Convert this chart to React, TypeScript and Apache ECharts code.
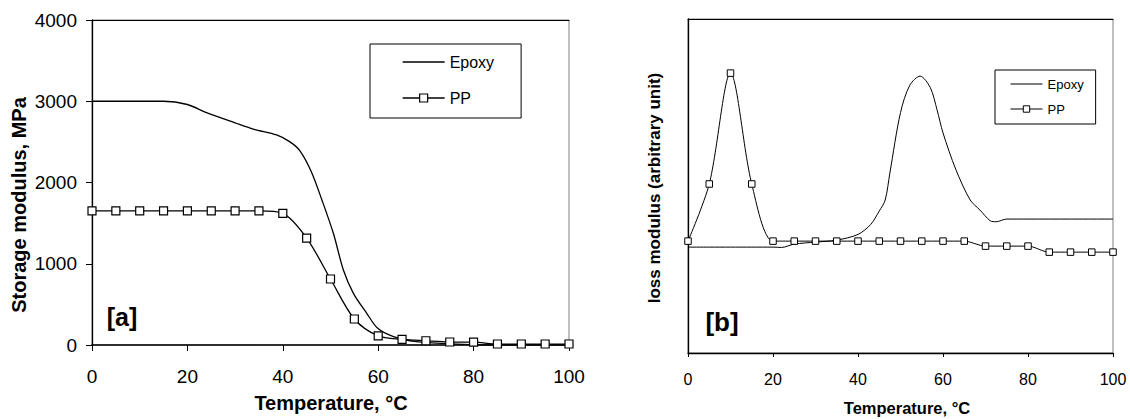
import React, { useEffect, useRef } from "react";
import * as echarts from "echarts";

// ---------- Data ----------
// [a] Storage modulus (MPa)
const ppTempsA = [0, 5, 10, 15, 20, 25, 30, 35, 40, 45, 50, 55, 60, 65, 70, 75, 80, 85, 90, 95, 100];
const ppModulusA = [1650, 1650, 1650, 1650, 1650, 1650, 1650, 1650, 1620, 1316, 812, 320, 112, 70, 52, 37, 36, 12, 12, 12, 12];
const epoxyTempsA = [0, 5, 10, 15, 20, 24, 30, 34, 38.7, 41.5, 43.6, 46, 48.2, 50.6, 52.7, 54.8, 57.6, 59.9, 63.2, 68, 75, 85, 100];
const epoxyModulusA = [3000, 3000, 3000, 3000, 2960, 2860, 2735, 2655, 2585, 2500, 2390, 2130, 1785, 1375, 923, 636, 390, 205, 103, 41, 15, 0, 0];

// [b] Loss modulus (arbitrary unit)
const ppTempsB = [0, 5, 10, 15, 20, 25, 30, 35, 40, 45, 50, 55, 60, 65, 70, 75, 80, 85, 90, 95, 100];
const ppLossB = [33.5, 50.6, 83.8, 50.6, 33.5, 33.5, 33.5, 33.5, 33.5, 33.5, 33.5, 33.5, 33.5, 33.5, 32.0, 32.0, 32.0, 30.2, 30.2, 30.2, 30.2];
const epoxyTempsB = [0, 5, 10, 15, 20, 22, 25, 30, 35, 40, 43, 45, 46.4, 47.5, 50, 52.2, 54.6, 57, 58.6, 60, 63, 66.4, 68.7, 71.1, 72.5, 75, 80, 90, 100];
const epoxyLossB = [31.7, 31.7, 31.7, 31.7, 31.7, 31.6, 32.6, 33.2, 33.8, 35.5, 38.5, 42.5, 45.8, 53.9, 72, 80.2, 82.9, 79.5, 72.8, 65.9, 55, 45.8, 42.8, 39.6, 39.3, 40.1, 40.1, 40.1, 40.1];

const xTicks = ["0", "20", "40", "60", "80", "100"];
const yTicksA = ["0", "1000", "2000", "3000", "4000"];

const seriesNames = ["Epoxy", "PP"];
const labelA = "[a]";
const labelB = "[b]";
const yTitleA = "Storage modulus, MPa";
const yTitleB = "loss modulus (arbitrary unit)";
const xTitle = "Temperature, °C";

const zip = (xs: number[], ys: number[]) => xs.map((x, i) => [x, ys[i]]);

const FONT = "'Liberation Sans', Arial, sans-serif";

export default function App() {
  const ref = useRef<HTMLDivElement>(null);

  useEffect(() => {
    if (!ref.current) return;
    const chart = echarts.init(ref.current, undefined, { renderer: "svg" });

    const topAxis = (gridIndex: number) => ({
      type: "value",
      gridIndex,
      position: "top",
      min: 0,
      max: 100,
      axisLine: { show: true, lineStyle: { color: "#000", width: 1 } },
      axisTick: { show: false },
      axisLabel: { show: false },
      splitLine: { show: false },
    });

    const option: any = {
      animation: false,
      backgroundColor: "#fff",
      textStyle: { fontFamily: FONT },
      grid: [
        { left: 92, top: 20, width: 477, height: 325, show: true, borderColor: "#808080", borderWidth: 1, backgroundColor: "transparent" },
        { left: 688, top: 19, width: 425, height: 334, show: true, borderColor: "#808080", borderWidth: 1, backgroundColor: "transparent" },
      ],
      xAxis: [
        {
          type: "value",
          gridIndex: 0,
          min: 0,
          max: 100,
          interval: 20,
          axisLine: { show: true, lineStyle: { color: "#000", width: 1.6 } },
          axisTick: { show: true, inside: false, length: 6, lineStyle: { color: "#000", width: 1 } },
          axisLabel: { fontSize: 19, color: "#000", fontFamily: FONT, margin: 22, formatter: (v: number) => xTicks[Math.round(v / 20)] ?? String(v) },
          splitLine: { show: false },
        },
        topAxis(0),
        {
          type: "value",
          gridIndex: 1,
          min: 0,
          max: 100,
          interval: 20,
          axisLine: { show: true, lineStyle: { color: "#000", width: 1.3 } },
          axisTick: { show: true, inside: false, length: 4, lineStyle: { color: "#000", width: 1 } },
          axisLabel: { fontSize: 16, color: "#000", fontFamily: FONT, margin: 18, formatter: (v: number) => xTicks[Math.round(v / 20)] ?? String(v) },
          splitLine: { show: false },
        },
        topAxis(1),
      ],
      yAxis: [
        {
          type: "value",
          gridIndex: 0,
          min: 0,
          max: 4000,
          interval: 1000,
          axisLine: { show: true, lineStyle: { color: "#000", width: 1.3 } },
          axisTick: { show: true, inside: false, length: 6, lineStyle: { color: "#000", width: 1 } },
          axisLabel: { fontSize: 19, color: "#000", fontFamily: FONT, margin: 15, formatter: (v: number) => yTicksA[Math.round(v / 1000)] ?? String(v) },
          splitLine: { show: false },
        },
        {
          type: "value",
          gridIndex: 1,
          min: 0,
          max: 100,
          axisLine: { show: true, lineStyle: { color: "#000", width: 1.3 } },
          axisTick: { show: false },
          axisLabel: { show: false },
          splitLine: { show: false },
        },
      ],
      legend: [
        {
          orient: "vertical",
          left: 370,
          top: 44,
          padding: [10, 27, 12, 32],
          itemGap: 20,
          itemWidth: 42,
          itemHeight: 10,
          borderColor: "#000",
          borderWidth: 1,
          backgroundColor: "#fff",
          selectedMode: false,
          textStyle: { fontSize: 16, lineHeight: 16, color: "#000", fontFamily: FONT },
          data: [
            { name: seriesNames[0], itemStyle: { opacity: 0 }, lineStyle: { color: "#000", width: 1.3 } },
            { name: seriesNames[1], itemStyle: { color: "#fff", borderColor: "#000", borderWidth: 1.2 }, lineStyle: { color: "#000", width: 1.3 } },
          ],
        },
        {
          orient: "vertical",
          left: 995,
          top: 70,
          padding: [7.5, 12, 8.5, 15],
          itemGap: 12,
          itemWidth: 32,
          itemHeight: 8,
          borderColor: "#000",
          borderWidth: 1,
          backgroundColor: "#fff",
          selectedMode: false,
          textStyle: { fontSize: 13, lineHeight: 13, color: "#000", fontFamily: FONT },
          data: [
            { name: seriesNames[0], itemStyle: { opacity: 0 }, lineStyle: { color: "#000", width: 1 } },
            { name: seriesNames[1], itemStyle: { color: "#fff", borderColor: "#000", borderWidth: 1 }, lineStyle: { color: "#000", width: 1 } },
          ],
        },
      ],
      series: [
        {
          name: seriesNames[0],
          type: "line",
          xAxisIndex: 0,
          yAxisIndex: 0,
          data: zip(epoxyTempsA, epoxyModulusA),
          smooth: 0.3,
          symbol: "none",
          showSymbol: false,
          lineStyle: { color: "#000", width: 1.3 },
          itemStyle: { color: "#000" },
          z: 3,
        },
        {
          name: seriesNames[1],
          type: "line",
          xAxisIndex: 0,
          yAxisIndex: 0,
          data: zip(ppTempsA, ppModulusA),
          smooth: 0.3,
          symbol: "rect",
          symbolSize: 8,
          showSymbol: true,
          lineStyle: { color: "#000", width: 1.3 },
          itemStyle: { color: "#fff", borderColor: "#000", borderWidth: 1.2 },
          z: 4,
        },
        {
          name: seriesNames[0],
          type: "line",
          xAxisIndex: 2,
          yAxisIndex: 1,
          data: zip(epoxyTempsB, epoxyLossB),
          smooth: 0.3,
          symbol: "none",
          showSymbol: false,
          lineStyle: { color: "#000", width: 1 },
          itemStyle: { color: "#000" },
          z: 3,
        },
        {
          name: seriesNames[1],
          type: "line",
          xAxisIndex: 2,
          yAxisIndex: 1,
          data: zip(ppTempsB, ppLossB),
          smooth: 0.3,
          symbol: "rect",
          symbolSize: 6.5,
          showSymbol: true,
          lineStyle: { color: "#000", width: 1 },
          itemStyle: { color: "#fff", borderColor: "#000", borderWidth: 1 },
          z: 4,
        },
      ],
      graphic: [
        {
          type: "text",
          x: 18.5,
          y: 205,
          rotation: Math.PI / 2,
          style: { text: yTitleA, font: `bold 20px ${FONT}`, fill: "#000", textAlign: "center", textVerticalAlign: "middle" },
        },
        {
          type: "text",
          x: 331,
          y: 403,
          style: { text: xTitle, font: `bold 20px ${FONT}`, fill: "#000", textAlign: "center", textVerticalAlign: "middle" },
        },
        {
          type: "text",
          x: 122,
          y: 317,
          style: { text: labelA, font: `bold 25px ${FONT}`, fill: "#000", textAlign: "center", textVerticalAlign: "middle" },
        },
        {
          type: "text",
          x: 654,
          y: 188,
          rotation: Math.PI / 2,
          style: { text: yTitleB, font: `bold 17px ${FONT}`, fill: "#000", textAlign: "center", textVerticalAlign: "middle" },
        },
        {
          type: "text",
          x: 907,
          y: 408,
          style: { text: xTitle, font: `bold 16.5px ${FONT}`, fill: "#000", textAlign: "center", textVerticalAlign: "middle" },
        },
        {
          type: "text",
          x: 722,
          y: 322,
          style: { text: labelB, font: `bold 26px ${FONT}`, fill: "#000", textAlign: "center", textVerticalAlign: "middle" },
        },
      ],
    };

    chart.setOption(option);
    return () => chart.dispose();
  }, []);

  return (
    <div
      ref={ref}
      style={{ position: "fixed", left: 0, top: 0, width: 1130, height: 419, background: "#fff" }}
    />
  );
}
